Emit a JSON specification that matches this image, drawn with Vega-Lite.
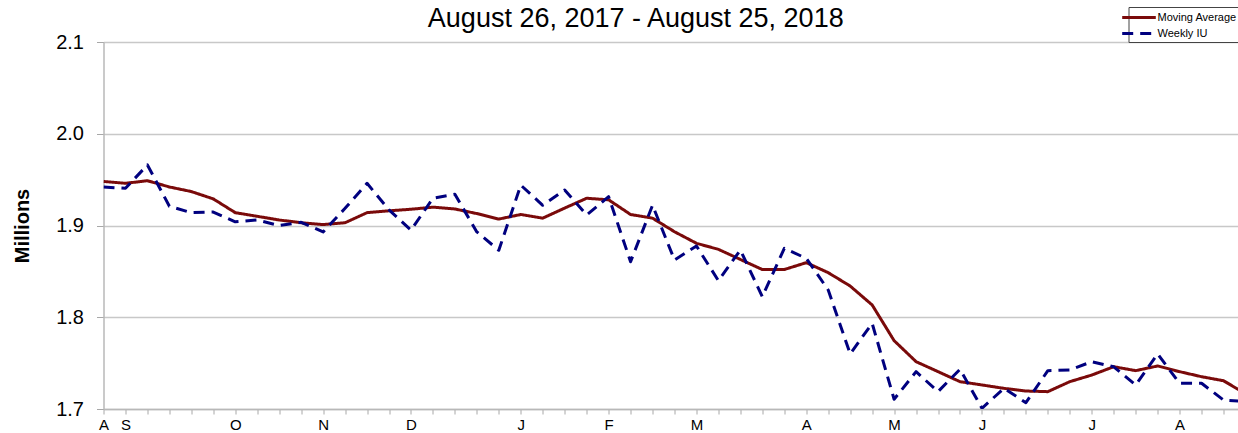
{
  "$schema": "https://vega.github.io/schema/vega-lite/v6.json",
  "autosize": {"type": "none"},
  "width": 1134.5,
  "height": 367,
  "padding": {"left": 103.5, "top": 42, "right": 0, "bottom": 24},
  "background": "white",
  "title": {
    "text": "August 26, 2017 - August 25, 2018",
    "font": "Liberation Sans",
    "fontSize": 27,
    "fontWeight": "normal",
    "color": "#000000",
    "anchor": "middle",
    "dx": -35,
    "baseline": "top",
    "offset": -26
  },
  "data": {
    "values": [
      {"week": "2017-08-26", "Moving Average": 1.948, "Weekly IU": 1.942},
      {"week": "2017-09-02", "Moving Average": 1.946, "Weekly IU": 1.9405},
      {"week": "2017-09-09", "Moving Average": 1.9488, "Weekly IU": 1.966},
      {"week": "2017-09-16", "Moving Average": 1.942, "Weekly IU": 1.921},
      {"week": "2017-09-23", "Moving Average": 1.937, "Weekly IU": 1.914},
      {"week": "2017-09-30", "Moving Average": 1.929, "Weekly IU": 1.9147},
      {"week": "2017-10-07", "Moving Average": 1.914, "Weekly IU": 1.904},
      {"week": "2017-10-14", "Moving Average": 1.91, "Weekly IU": 1.906},
      {"week": "2017-10-21", "Moving Average": 1.906, "Weekly IU": 1.9},
      {"week": "2017-10-28", "Moving Average": 1.903, "Weekly IU": 1.9035},
      {"week": "2017-11-04", "Moving Average": 1.901, "Weekly IU": 1.893},
      {"week": "2017-11-11", "Moving Average": 1.903, "Weekly IU": 1.9187},
      {"week": "2017-11-18", "Moving Average": 1.914, "Weekly IU": 1.946},
      {"week": "2017-11-25", "Moving Average": 1.916, "Weekly IU": 1.917},
      {"week": "2017-12-02", "Moving Average": 1.9177, "Weekly IU": 1.895},
      {"week": "2017-12-09", "Moving Average": 1.92, "Weekly IU": 1.9296},
      {"week": "2017-12-16", "Moving Average": 1.918, "Weekly IU": 1.934},
      {"week": "2017-12-23", "Moving Average": 1.913, "Weekly IU": 1.893},
      {"week": "2017-12-30", "Moving Average": 1.907, "Weekly IU": 1.873},
      {"week": "2018-01-06", "Moving Average": 1.912, "Weekly IU": 1.944},
      {"week": "2018-01-13", "Moving Average": 1.908, "Weekly IU": 1.922},
      {"week": "2018-01-20", "Moving Average": 1.919, "Weekly IU": 1.9387},
      {"week": "2018-01-27", "Moving Average": 1.9297, "Weekly IU": 1.9114},
      {"week": "2018-02-03", "Moving Average": 1.928, "Weekly IU": 1.9314},
      {"week": "2018-02-10", "Moving Average": 1.912, "Weekly IU": 1.8605},
      {"week": "2018-02-17", "Moving Average": 1.908, "Weekly IU": 1.922},
      {"week": "2018-02-24", "Moving Average": 1.8932, "Weekly IU": 1.8624},
      {"week": "2018-03-03", "Moving Average": 1.8806, "Weekly IU": 1.8777},
      {"week": "2018-03-10", "Moving Average": 1.874, "Weekly IU": 1.8399},
      {"week": "2018-03-17", "Moving Average": 1.863, "Weekly IU": 1.8733},
      {"week": "2018-03-24", "Moving Average": 1.852, "Weekly IU": 1.8224},
      {"week": "2018-03-31", "Moving Average": 1.852, "Weekly IU": 1.8751},
      {"week": "2018-04-07", "Moving Average": 1.8595, "Weekly IU": 1.8642},
      {"week": "2018-04-14", "Moving Average": 1.8486, "Weekly IU": 1.8297},
      {"week": "2018-04-21", "Moving Average": 1.834, "Weekly IU": 1.76},
      {"week": "2018-04-28", "Moving Average": 1.8134, "Weekly IU": 1.7934},
      {"week": "2018-05-05", "Moving Average": 1.7745, "Weekly IU": 1.7106},
      {"week": "2018-05-12", "Moving Average": 1.7516, "Weekly IU": 1.7407},
      {"week": "2018-05-19", "Moving Average": 1.7407, "Weekly IU": 1.7189},
      {"week": "2018-05-26", "Moving Average": 1.7298, "Weekly IU": 1.7433},
      {"week": "2018-06-02", "Moving Average": 1.7262, "Weekly IU": 1.7008},
      {"week": "2018-06-09", "Moving Average": 1.7225, "Weekly IU": 1.7225},
      {"week": "2018-06-16", "Moving Average": 1.7196, "Weekly IU": 1.7069},
      {"week": "2018-06-23", "Moving Average": 1.7189, "Weekly IU": 1.7418},
      {"week": "2018-06-30", "Moving Average": 1.7298, "Weekly IU": 1.7425},
      {"week": "2018-07-07", "Moving Average": 1.737, "Weekly IU": 1.7516},
      {"week": "2018-07-14", "Moving Average": 1.7461, "Weekly IU": 1.746},
      {"week": "2018-07-21", "Moving Average": 1.7418, "Weekly IU": 1.7262},
      {"week": "2018-07-28", "Moving Average": 1.7469, "Weekly IU": 1.76},
      {"week": "2018-08-04", "Moving Average": 1.7407, "Weekly IU": 1.728},
      {"week": "2018-08-11", "Moving Average": 1.7352, "Weekly IU": 1.728},
      {"week": "2018-08-18", "Moving Average": 1.7308, "Weekly IU": 1.7098},
      {"week": "2018-08-25", "Moving Average": 1.7167, "Weekly IU": 1.708}
    ]
  },
  "transform": [
    {"fold": ["Moving Average", "Weekly IU"], "as": ["series", "value"]}
  ],
  "mark": {"type": "line", "strokeWidth": 3, "clip": true, "strokeCap": "butt", "strokeJoin": "round"},
  "encoding": {
    "x": {
      "field": "week",
      "type": "ordinal",
      "sort": "ascending",
      "scale": {"type": "point", "padding": 0, "range": [0, 1142]},
      "axis": {
        "title": null,
        "labelAngle": 0,
        "labelExpr": "(toNumber(substring(datum.value,8,10)) <= 7 || datum.value == '2017-08-26') ? substring('JFMAMJJASOND', toNumber(substring(datum.value,5,7)) - 1, toNumber(substring(datum.value,5,7))) : ''",
        "labelFont": "Liberation Sans",
        "labelFontSize": 15,
        "labelColor": "#000000",
        "labelPadding": 3,
        "labelOverlap": false,
        "labelAlign": "center",
        "tickSize": 5,
        "tickColor": "#a8a8a8",
        "tickWidth": 1,
        "domainColor": "#b8b8b8",
        "domainWidth": 1.5,
        "grid": false
      }
    },
    "y": {
      "field": "value",
      "type": "quantitative",
      "scale": {"domain": [1.7, 2.1], "zero": false, "nice": false},
      "axis": {
        "title": "Millions",
        "titleFont": "Liberation Sans",
        "titleFontSize": 20,
        "titleFontWeight": "bold",
        "titleColor": "#000000",
        "titlePadding": 23,
        "values": [1.7, 1.8, 1.9, 2.0, 2.1],
        "format": ".1f",
        "labelFont": "Liberation Sans",
        "labelFontSize": 20,
        "labelColor": "#000000",
        "labelPadding": 13,
        "tickSize": 7,
        "tickColor": "#a8a8a8",
        "domainColor": "#b8b8b8",
        "domainWidth": 1.5,
        "grid": true,
        "gridColor": "#c8c8c8",
        "gridWidth": 1.5
      }
    },
    "color": {
      "field": "series",
      "type": "nominal",
      "scale": {"domain": ["Moving Average", "Weekly IU"], "range": ["#7a0a0a", "#00007f"]},
      "legend": {"title": null}
    },
    "strokeDash": {
      "field": "series",
      "type": "nominal",
      "scale": {"domain": ["Moving Average", "Weekly IU"], "range": [[1, 0], [11, 7]]},
      "legend": {"title": null}
    }
  },
  "config": {
    "view": {"stroke": null},
    "legend": {
      "orient": "none",
      "legendX": 1025,
      "legendY": -35,
      "direction": "vertical",
      "strokeColor": "#444444",
      "fillColor": "#ffffff",
      "padding": 2,
      "labelFont": "Liberation Sans",
      "labelFontSize": 11,
      "labelColor": "#000000",
      "labelOffset": 10,
      "symbolType": "M-2.4,0H2.4",
      "symbolSize": 196,
      "symbolStrokeWidth": 3,
      "rowPadding": 1,
      "symbolOffset": 0
    }
  }
}
